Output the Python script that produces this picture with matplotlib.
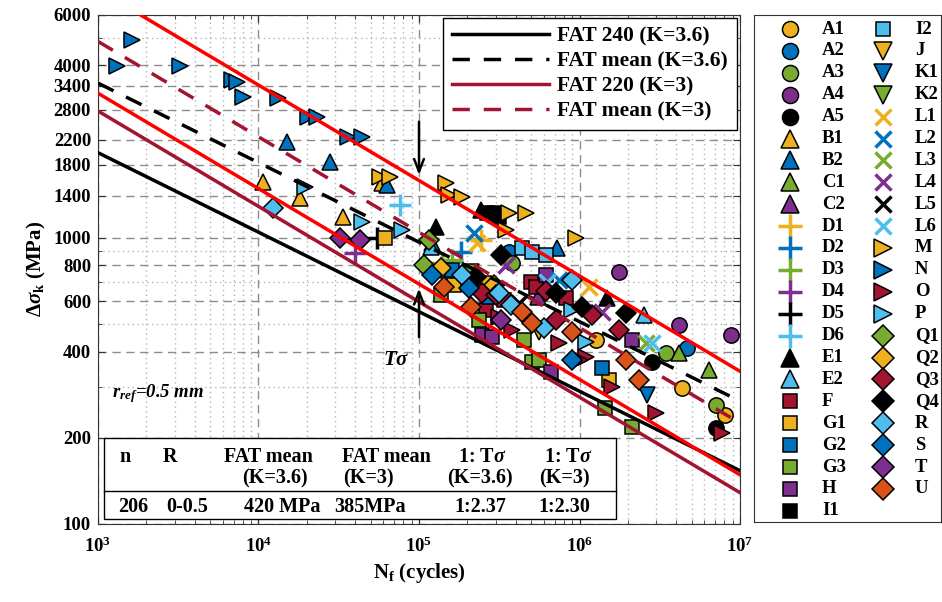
import numpy as np
import matplotlib
matplotlib.use('Agg')
import matplotlib.pyplot as plt
from matplotlib.patches import Rectangle

plt.rcParams['font.family'] = 'Liberation Serif'
plt.rcParams['font.weight'] = 'bold'
plt.rcParams['axes.labelweight'] = 'bold'
plt.rcParams['mathtext.fontset'] = 'custom'
plt.rcParams['mathtext.rm'] = 'Liberation Serif:bold'
plt.rcParams['mathtext.it'] = 'Liberation Serif:italic:bold'
plt.rcParams['mathtext.bf'] = 'Liberation Serif:bold'

# ---- fatigue data, N_f (cycles) / delta sigma_k (MPa) ----
N_A1 = [1.27e6, 4.35e6, 8.1e6];        S_A1 = [440, 299, 240]
N_A2 = [3.64e5, 4.68e6];               S_A2 = [893, 412]
N_A3 = [3.8e5, 3.46e6, 7.1e6];         S_A3 = [818, 396, 261]
N_A4 = [1.76e6, 4.17e6, 8.79e6];       S_A4 = [760, 496, 458]
N_A5 = [2.83e6, 7.09e6];               S_A5 = [368, 217]
N_B1 = [1.07e4, 1.82e4, 3.36e4, 5.87e4]; S_B1 = [1570, 1380, 1184, 1557]
N_B2 = [1.51e4, 2.79e4, 6.31e4, 1.2e5, 7.25e5]; S_B2 = [2166, 1844, 1532, 961, 923]
N_C1 = [4.17e6, 6.41e6];               S_C1 = [396, 345]
N_C2 = [5.5e5];                        S_C2 = [620]
N_D1 = [2.43e5];                       S_D1 = [980]
N_D2 = [1.83e5];                       S_D2 = [893]
N_D3 = [1.61e5, 1.39e5];               S_D3 = [838, 818]
N_D4 = [3.99e4];                       S_D4 = [887]
N_D5 = [5.47e4];                       S_D5 = [1000]
N_D6 = [7.62e4];                       S_D6 = [1304]
N_E1 = [1.28e5, 2.43e5, 1.48e6];       S_E1 = [1092, 1253, 617]
N_E2 = [1.18e5, 2.52e6];               S_E2 = [931, 538]
N_F = [8.24e5, 3.4e5, 5.0e5, 2.6e5, 5.36e5]; S_F = [617, 607, 700, 560, 674]
N_G1 = [6.14e4, 2.54e5, 1.65e5, 1.53e6]; S_G1 = [1000, 696, 685, 319]
N_G2 = [1.61e5, 2.73e5, 1.38e6];       S_G2 = [773, 622, 351]
N_G3 = [1.37e5, 2.36e5, 4.51e5, 5.06e5, 5.6e5, 1.44e6, 2.12e6]
S_G3 = [632, 516, 440, 368, 374, 255, 218]
N_H = [2.47e5, 2.85e5, 6.64e5, 6.18e5, 2.12e6]; S_H = [458, 451, 340, 743, 440]
N_I1 = [2.65e5, 2.93e5, 3.15e5];       S_I1 = [1222, 1222, 1184]
N_I2 = [4.38e5, 5.06e5, 6.18e5];       S_I2 = [923, 893, 873]
N_J = [5.6e5];                         S_J = [470]
N_K1 = [2.63e6];                       S_K1 = [283]
N_K2 = [2.1e5];                        S_K2 = [760]
N_L1 = [2.3e5, 1.15e6];                S_L1 = [961, 674]
N_L2 = [2.2e5, 7.45e5];                S_L2 = [1041, 713]
N_L3 = [2.6e6];                        S_L3 = [430]
N_L4 = [3.48e5, 1.38e6];               S_L4 = [805, 551]
N_L5 = [4.2e5];                        S_L5 = [590]
N_L6 = [6.28e5, 2.83e6];               S_L6 = [702, 430]
N_M = [5.71e4, 6.59e4, 1.47e5, 1.54e5, 1.85e5, 3.64e5, 4.64e5, 3.48e5, 9.51e5]
S_M = [1634, 1625, 1557, 1413, 1390, 1222, 1222, 1066, 1000]
N_N = [1.63e3, 1.31e3, 3.24e3, 6.84e3, 7.34e3, 8.0e3, 1.32e4, 2.03e4, 2.31e4, 3.61e4, 4.42e4]
S_N = [4890, 3990, 3990, 3565, 3500, 3112, 3082, 2650, 2650, 2240, 2240]
N_O = [3.8e5, 7.45e5, 1.1e6, 1.59e6, 3.0e6, 7.73e6, 1.0e6, 3.15e5]
S_O = [477, 430, 384, 301, 244, 208, 374, 530]
N_P = [1.95e4, 4.42e4, 7.83e4, 8.98e5, 1.1e6]; S_P = [1508, 1138, 1066, 560, 433]
N_Q1 = [1.07e5, 1.15e5];               S_Q1 = [805, 980]
N_Q2 = [1.37e5, 2.93e5];               S_Q2 = [785, 685]
N_Q3 = [2.47e5, 1.2e6, 1.76e6, 3.02e5, 7.14e5, 6.18e5]
S_Q3 = [643, 538, 477, 632, 516, 653]
N_Q4 = [3.24e5, 2.27e5, 7.14e5, 1.04e6, 1.95e6]; S_Q4 = [873, 731, 643, 574, 547]
N_R = [1.23e4, 1.85e5, 3.15e5, 3.74e5, 6.01e5, 8.98e5]; S_R = [1274, 743, 643, 583, 484, 713]
N_S = [1.2e5, 2.05e5, 8.98e5];         S_S = [743, 668, 374]
N_T = [3.22e4, 4.29e4, 3.24e5];        S_T = [1000, 985, 516]
N_U = [1.43e5, 2.11e5, 4.38e5, 5.06e5, 8.98e5, 1.95e6, 2.35e6]
S_U = [674, 574, 551, 505, 469, 374, 319]

names = ['A1', 'A2', 'A3', 'A4', 'A5', 'B1', 'B2', 'C1', 'C2',
         'D1', 'D2', 'D3', 'D4', 'D5', 'D6', 'E1', 'E2', 'F',
         'G1', 'G2', 'G3', 'H', 'I1', 'I2', 'J', 'K1', 'K2',
         'L1', 'L2', 'L3', 'L4', 'L5', 'L6', 'M', 'N', 'O', 'P',
         'Q1', 'Q2', 'Q3', 'Q4', 'R', 'S', 'T', 'U']

# FAT values and scatter from the table
FAT_K36, FAT_MEAN_K36, TS_K36 = 240, 420, 2.37
FAT_K3, FAT_MEAN_K3, TS_K3 = 220, 385, 2.30
N_REF = 2e6

table_head1 = ['n', 'R', 'FAT mean', 'FAT mean', r'1: T$\sigma$', r'1: T$\sigma$']
table_head2 = ['', '', '(K=3.6)', '(K=3)', '(K=3.6)', '(K=3)']
table_vals = ['206', '0-0.5', '420 MPa', '385MPa', '1:2.37', '1:2.30']

yticks = [100, 200, 400, 600, 800, 1000, 1400, 1800, 2200, 2800, 3400, 4000, 6000]
yminor = [300, 500, 700, 900, 5000]

ORG, BLU, GRN, PUR = '#EDB120', '#0072BD', '#77AC30', '#7E2F8E'
BLK, CRM, LBL, RDO = 'k', '#A2142F', '#4DBEEE', '#D95319'
markers = ['o'] * 5 + ['^'] * 4 + ['+'] * 6 + ['^'] * 2 + ['s'] * 7 + \
          ['v'] * 3 + ['x'] * 6 + ['>'] * 4 + ['D'] * 8
colors = [ORG, BLU, GRN, PUR, BLK, ORG, BLU, GRN, PUR,
          ORG, BLU, GRN, PUR, BLK, LBL, BLK, LBL,
          CRM, ORG, BLU, GRN, PUR, BLK, LBL,
          ORG, BLU, GRN, ORG, BLU, GRN, PUR, BLK, LBL,
          ORG, BLU, CRM, LBL, GRN, ORG, CRM, BLK, LBL, BLU, PUR, RDO]
msize = {'o': 11, '^': 12, 'v': 12, '>': 12, 's': 10, 'D': 10.5, '+': 16, 'x': 11.5}


def style(m, c, scale=1.0):
    kw = dict(marker=m, linestyle='none', ms=msize[m] * scale)
    if m in '+x':
        kw.update(color=c, mew=2.5)
    else:
        kw.update(mfc=c, mec='k', mew=1.1)
    return kw


fig = plt.figure(figsize=(9.42, 6.02), dpi=100)
ax = fig.add_axes([0.104, 0.1296, 0.6816, 0.8455])
ax.set_xscale('log')
ax.set_yscale('log')
ax.set_xlim(1e3, 1e7)
ax.set_ylim(100, 6000)

for nm, m, c in zip(names, markers, colors):
    ax.plot(globals()['N_' + nm], globals()['S_' + nm], zorder=3, **style(m, c))

Nf = np.logspace(3, 7, 200)
ax.plot(Nf, FAT_K36 * (N_REF / Nf) ** (1 / 3.6), color='k', lw=2.5, zorder=5,
        label='FAT 240 (K=3.6)')
ax.plot(Nf, FAT_MEAN_K36 * (N_REF / Nf) ** (1 / 3.6), color='k', lw=2.5,
        dashes=(5, 4), zorder=5, label='FAT mean (K=3.6)')
ax.plot(Nf, FAT_K3 * (N_REF / Nf) ** (1 / 3), color=CRM, lw=2.5, zorder=5,
        label='FAT 220 (K=3)')
ax.plot(Nf, FAT_MEAN_K3 * (N_REF / Nf) ** (1 / 3), color=CRM, lw=2.5,
        dashes=(5, 4), zorder=5, label='FAT mean (K=3)')
ts = np.sqrt(TS_K3)
ax.plot(Nf, FAT_MEAN_K3 * ts * (N_REF / Nf) ** (1 / 3), color='#ff0000', lw=2.5, zorder=5)
ax.plot(Nf, FAT_MEAN_K3 / ts * (N_REF / Nf) ** (1 / 3), color='#ff0000', lw=2.5, zorder=5)

# scatter band arrows at 1e5
arr = dict(arrowstyle='->,head_length=0.9,head_width=0.35', color='k', lw=1.8)
ax.annotate('', xy=(1e5, 1620), xytext=(1e5, 2600), arrowprops=arr, zorder=6)
ax.annotate('', xy=(1e5, 680), xytext=(1e5, 440), arrowprops=arr, zorder=6)
ax.text(8.7e4, 375, r'$T\sigma$', fontsize=15, ha='right', va='center', zorder=6)

ax.text(0.022, 0.257, r'$r_{ref}$=0.5 mm', transform=ax.transAxes, fontsize=13.5,
        fontstyle='italic', fontweight='bold', va='center')

# ticks and grid
ax.set_yticks(yticks)
ax.set_yticklabels([str(v) for v in yticks])
ax.set_yticks(yminor, minor=True)
ax.yaxis.set_minor_formatter(matplotlib.ticker.NullFormatter())
ax.tick_params(which='both', direction='in', top=True, right=True, labelsize=13.5,
               color='#333333')
ax.tick_params(which='major', length=5, pad=5)
ax.tick_params(axis='x', which='major', pad=9)
ax.tick_params(which='minor', length=3)
ax.grid(True, which='major', color='#8c8c8c', lw=1, dashes=(6, 4))
ax.grid(True, which='minor', color='#b5b5b5', lw=1, linestyle=(0, (1, 2.5)))
for sp in ax.spines.values():
    sp.set_color('#333333')
ax.set_xlabel(r'N$_\mathbf{f}$ (cycles)', fontsize=15, labelpad=4)
ax.set_ylabel(r'$\Delta\sigma_\mathbf{k}$ (MPa)', fontsize=15, labelpad=4)

leg = ax.legend(loc='upper right', bbox_to_anchor=(1.0, 1.0), borderaxespad=0.15,
                fontsize=15.5, handlelength=4.5, handletextpad=0.4, labelspacing=0.22,
                fancybox=False, framealpha=1, edgecolor='k', borderpad=0.4)
leg.get_frame().set_linewidth(1)
leg.set_zorder(8)

# summary table inside the axes
tx0, tx1, ty0, ty1, tmid = 0.0093, 0.807, 0.0098, 0.169, 0.0648
ax.add_patch(Rectangle((tx0, ty0), tx1 - tx0, ty1 - ty0, transform=ax.transAxes,
                       fc='white', ec='k', lw=1, zorder=7))
ax.plot([tx0, tx1], [tmid, tmid], transform=ax.transAxes, color='k', lw=1, zorder=8)
head_x = [0.042, 0.112, 0.265, 0.450, 0.598, 0.732]
head2_x = [0.042, 0.112, 0.276, 0.421, 0.595, 0.727]
val_x = [0.0545, 0.139, 0.287, 0.424, 0.595, 0.727]
for i in range(len(table_vals)):
    ax.text(head_x[i], 0.132, table_head1[i], transform=ax.transAxes, fontsize=14.5,
            ha='center', va='center', zorder=9)
    ax.text(head2_x[i], 0.090, table_head2[i], transform=ax.transAxes, fontsize=14.5,
            ha='center', va='center', zorder=9)
    ax.text(val_x[i], 0.033, table_vals[i], transform=ax.transAxes, fontsize=14.5,
            ha='center', va='center', zorder=9)

# marker key on the right, two columns
lax = fig.add_axes([754 / 942, 80 / 602, 187 / 942, 507 / 602])
lax.set_xlim(0, 187)
lax.set_ylim(507, 0)
lax.set_xticks([])
lax.set_yticks([])
for sp in lax.spines.values():
    sp.set_color('#333333')
for i, (nm, m, c) in enumerate(zip(names, markers, colors)):
    col, row = divmod(i, 23)
    yy = 14 + row * 21.9
    xm = 36 + col * 93
    lax.plot([xm], [yy], **style(m, c, 1.05 if m not in '+' else 1.1))
    lax.text(xm + 32, yy, nm, fontsize=13.5, va='center', ha='left')

fig.savefig('out.png', dpi=100)
